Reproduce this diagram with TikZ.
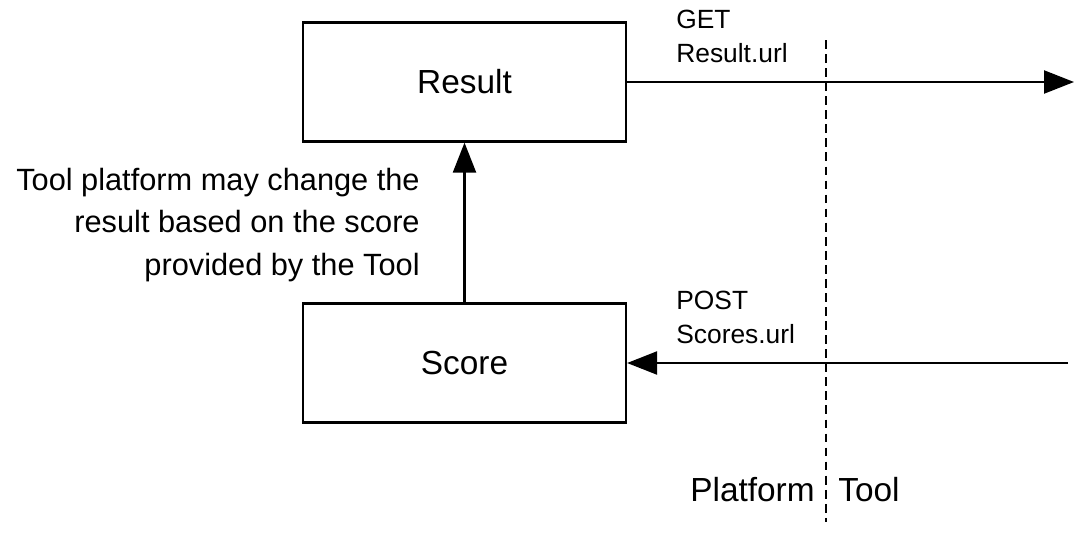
\documentclass[tikz,border=0pt]{standalone}
\usepackage{fontspec}
\setmainfont{Liberation Sans}
\usetikzlibrary{arrows.meta,positioning}
\tikzset{box/.style={
    % The shape:
    rectangle,
    minimum width=6.46cm,
    minimum height=2.38cm,
    % The border:
    line width=1.3pt,
    draw=black,
    font=\fontsize{19}{22}\selectfont
    },
    note/.style={
    font=\fontsize{15}{19}\selectfont,
    align=left,
    inner sep=0pt,
    },
    flow/.style={line width=1.3pt,-{Triangle[length=6mm,width=4.6mm]}},
}
\begin{document}
\begin{tikzpicture}[x=0.02cm,y=-0.02cm]
    \useasboundingbox (0,0) rectangle (1088,538);
    \node (result) [box] at (464.5,82)  {Result};
    \node (score)  [box] at (464.5,363) {Score};

    \coordinate (out) at (1074,82);
    \coordinate (in)  at (1068,363);
    \coordinate (divtop) at (826,40);
    \coordinate (divbot) at (826,522);

    \draw[flow] (result) -- (out);
    \draw[flow] (in) -- (score);
    \draw[flow] (score) -- (result);
    \draw[line width=1.1pt,dash pattern=on 5pt off 3pt] (divtop) -- (divbot);

    \node (get)  [note,anchor=north west] at (676,10)  {GET\\Result.url};
    \node (post) [note,anchor=north west] at (676,291) {POST\\Scores.url};
    \node (note) [note,align=right,anchor=east,font=\fontsize{17.5}{24}\selectfont] at (420,225)
        {Tool platform may change the\\result based on the score\\provided by the Tool};
    \node (platform) [note,anchor=east,font=\fontsize{19}{22}\selectfont] at (815,490) {Platform};
    \node (tool)     [note,anchor=west,font=\fontsize{19}{22}\selectfont] at (838,490) {Tool};
\end{tikzpicture}
\end{document}
